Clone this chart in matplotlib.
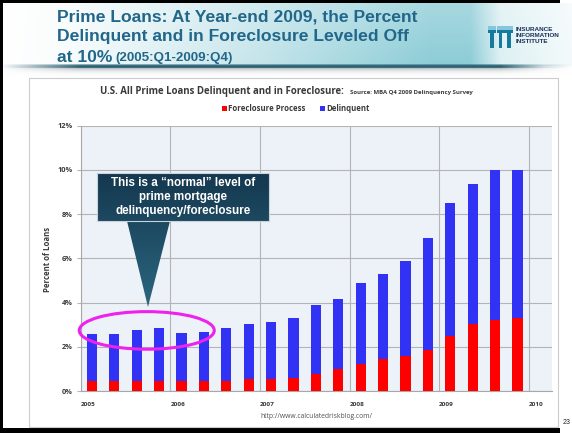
import numpy as np
import matplotlib
matplotlib.use('Agg')
import matplotlib.pyplot as plt
from matplotlib.patches import Rectangle, Ellipse, PathPatch
from matplotlib.path import Path
from matplotlib.ticker import FuncFormatter

# quarterly prime loan data, percent of loans
quarters = ['2005:Q1', '2005:Q2', '2005:Q3', '2005:Q4',
            '2006:Q1', '2006:Q2', '2006:Q3', '2006:Q4',
            '2007:Q1', '2007:Q2', '2007:Q3', '2007:Q4',
            '2008:Q1', '2008:Q2', '2008:Q3', '2008:Q4',
            '2009:Q1', '2009:Q2', '2009:Q3', '2009:Q4']
foreclosure = [0.45, 0.45, 0.45, 0.45, 0.45, 0.45, 0.47, 0.53, 0.55, 0.60,
               0.76, 0.98, 1.23, 1.43, 1.58, 1.87, 2.50, 3.01, 3.19, 3.29]
delinquent = [2.15, 2.15, 2.29, 2.42, 2.18, 2.23, 2.37, 2.52, 2.55, 2.69,
              3.12, 3.20, 3.67, 3.88, 4.31, 5.05, 6.01, 6.36, 6.81, 6.71]
years = [2005, 2006, 2007, 2008, 2009, 2010]
pct_ticks = [0, 2, 4, 6, 8, 10, 12]

W, H = 572, 433
fig = plt.figure(figsize=(W / 100, H / 100), dpi=100)

def frac(x0, y0, x1, y1):
    # pixel box (top-left origin) -> figure fraction rect
    return [x0 / W, 1 - y1 / H, (x1 - x0) / W, (y1 - y0) / H]

# ---- slide background ----
bg = fig.add_axes([0, 0, 1, 1], zorder=0)
bg.set_xlim(0, W)
bg.set_ylim(H, 0)
bg.axis('off')

img = np.ones((H, W, 3))
xs = np.arange(W)
w = np.interp(xs, [0, 60, 250, 430, 470, 500, 572], [0, 0.05, 0.5, 1.0, 1.0, 0.3, 0.1])
teal = np.array([0.55, 0.80, 0.84])
for y in range(3, 66):
    v = 0.75 + 0.25 * (y / 66)
    wy = (w * v)[:, None]
    img[y] = (1 - wy) + wy * teal
# dark rule under header, fading into a soft shadow
line_w = np.interp(xs, [0, 15, 80, 500, 545, 572], [0, 0.2, 1, 1, 0.2, 0])[:, None]
dark = np.array([0.17, 0.38, 0.45])
for y, s in zip(range(64, 76), [0.5, 0.9, 1.0, 0.9, 0.6, 0.4, 0.28, 0.18, 0.12, 0.07, 0.04, 0.02]):
    c = dark if y < 68 else np.array([0.55, 0.60, 0.62])
    a = line_w * s
    img[y] = img[y] * (1 - a) + a * c
bg.imshow(img, extent=(0, W, H, 0), aspect='auto', interpolation='bilinear')

# black slide frame
bg.add_patch(Rectangle((0, 0), 560, 3, color='black', lw=0))
bg.add_patch(Rectangle((0, 0), 3, H, color='black', lw=0))
bg.add_patch(Rectangle((0, 428), 560, 5, color='black', lw=0))

title_kw = dict(family='Liberation Sans', weight='bold', color='#22668a')
bg.text(57, 21.5, 'Prime Loans: At Year-end 2009, the Percent', fontsize=12.6, **title_kw)
bg.text(57, 41.5, 'Delinquent and in Foreclosure Leveled Off', fontsize=12.6, **title_kw)
bg.text(57, 61.5, 'at 10%', fontsize=12.6, **title_kw)
bg.text(115, 61.5, '(2005:Q1-2009:Q4)', fontsize=9.6, **title_kw)

# institute logo
logo_c = '#157a9c'
for lx in (488, 496.5, 505):
    bg.add_patch(Rectangle((lx, 26), 8, 4, color='#86c6da', lw=0))
    bg.add_patch(Rectangle((lx + 2.3, 30), 3.6, 18, color=logo_c, lw=0))
    bg.add_patch(Rectangle((lx, 30), 8, 3, color=logo_c, lw=0))
for i, word in enumerate(['INSURANCE', 'INFORMATION', 'INSTITUTE']):
    bg.text(516, 29.5 + i * 6, word, fontsize=4.6, weight='bold', family='Liberation Sans',
            color='#1c2f5c', va='center')

# chart panel
bg.add_patch(Rectangle((29, 78), 529, 349, facecolor='white', edgecolor='#cccccc', lw=0.8))

chart_kw = dict(family='Open Sans', weight='bold', color='#3a3a3a')
bg.text(100, 94, 'U.S. All Prime Loans Delinquent and in Foreclosure:', fontsize=6.9,
        va='baseline', **chart_kw)
bg.text(350, 94, 'Source: MBA Q4 2009 Delinquency Survey', fontsize=4.3, va='baseline', **chart_kw)

bg.add_patch(Rectangle((221.5, 105.5), 5, 5, color='#ff0000', lw=0))
bg.text(228.5, 108.5, 'Foreclosure Process', fontsize=5.6, va='center', **chart_kw)
bg.add_patch(Rectangle((319.5, 105.5), 5, 5, color='#3232f5', lw=0))
bg.text(326.5, 108.5, 'Delinquent', fontsize=5.6, va='center', **chart_kw)

bg.text(47, 259, 'Percent of Loans', rotation=90, fontsize=5.6, ha='center', va='center', **chart_kw)
bg.text(316, 417, 'http://www.calculatedriskblog.com/', fontsize=4.9, ha='center', va='center',
        family='Open Sans', color='#505050')
bg.text(563, 422, '23', fontsize=5, va='center', family='Liberation Sans', color='#202020')

# ---- bar chart ----
ax = fig.add_axes(frac(80.7, 125.7, 552, 391), zorder=1)
ax.set_facecolor('#edf1f8')
xpos = [int(q[:4]) + (int(q[-1]) - 0.5) / 4 for q in quarters]
ax.bar(xpos, foreclosure, width=0.112, color='#ff0000', zorder=3, label='Foreclosure Process')
ax.bar(xpos, delinquent, width=0.112, bottom=foreclosure, color='#3232f5', zorder=3,
       label='Delinquent')
ax.set_xlim(2005, 2010.26)
ax.set_ylim(0, 12)
ax.set_xticks(years)
ax.set_xticklabels([str(y) for y in years], ha='left')
ax.set_yticks(pct_ticks)
ax.yaxis.set_major_formatter(FuncFormatter(lambda v, p: '%d%%' % v))
ax.grid(True, color='#b4b4b4', lw=0.8, zorder=0)
for s in ('top', 'right'):
    ax.spines[s].set_visible(False)
for s in ('left', 'bottom'):
    ax.spines[s].set_color('#a8a8a8')
ax.tick_params(axis='y', length=3, color='#b4b4b4', pad=3, labelsize=5.3)
ax.tick_params(axis='x', length=0, pad=8, labelsize=4.6)
for lab in ax.get_xticklabels() + ax.get_yticklabels():
    lab.set_fontfamily('Open Sans')
    lab.set_fontweight('bold')
    lab.set_color('#3a3a3a')

# magenta ring around the 2005-2006 level
ax.add_patch(Ellipse((2005.737, 2.74), 1.507, 1.70, fill=False, edgecolor='#ee22ee',
                     lw=2.2, zorder=5, clip_on=False))

# ---- callout ----
fg = fig.add_axes([0, 0, 1, 1], zorder=2)
fg.set_xlim(0, W)
fg.set_ylim(H, 0)
fg.axis('off')
fg.patch.set_alpha(0)

verts = [(97, 173), (269, 173), (269, 221), (170, 221), (148, 307), (127, 221), (97, 221), (97, 173)]
codes = [Path.MOVETO] + [Path.LINETO] * 6 + [Path.CLOSEPOLY]
shape = PathPatch(Path(verts, codes), facecolor='none', edgecolor='none')
fg.add_patch(shape)
top_c = np.array([0.08, 0.22, 0.31])
bot_c = np.array([0.17, 0.40, 0.50])
t = np.linspace(0, 1, 134)[:, None]
grad = (1 - t) * top_c + t * bot_c
grad = np.repeat(grad[:, None, :], 2, axis=1)
im = fg.imshow(grad, extent=(97, 269, 307, 173), aspect='auto', interpolation='bilinear')
im.set_clip_path(shape)
fg.add_patch(Rectangle((97, 173), 172, 48, fill=False, edgecolor='#c8d4da', lw=0.8))
for i, line in enumerate(['This is a \u201cnormal\u201d level of', 'prime mortgage',
                          'delinquency/foreclosure']):
    fg.text(183, 183 + i * 14, line, fontsize=8.4, family='Liberation Sans', weight='bold',
            color='white', ha='center', va='center')

fig.savefig('out.png', dpi=100)
